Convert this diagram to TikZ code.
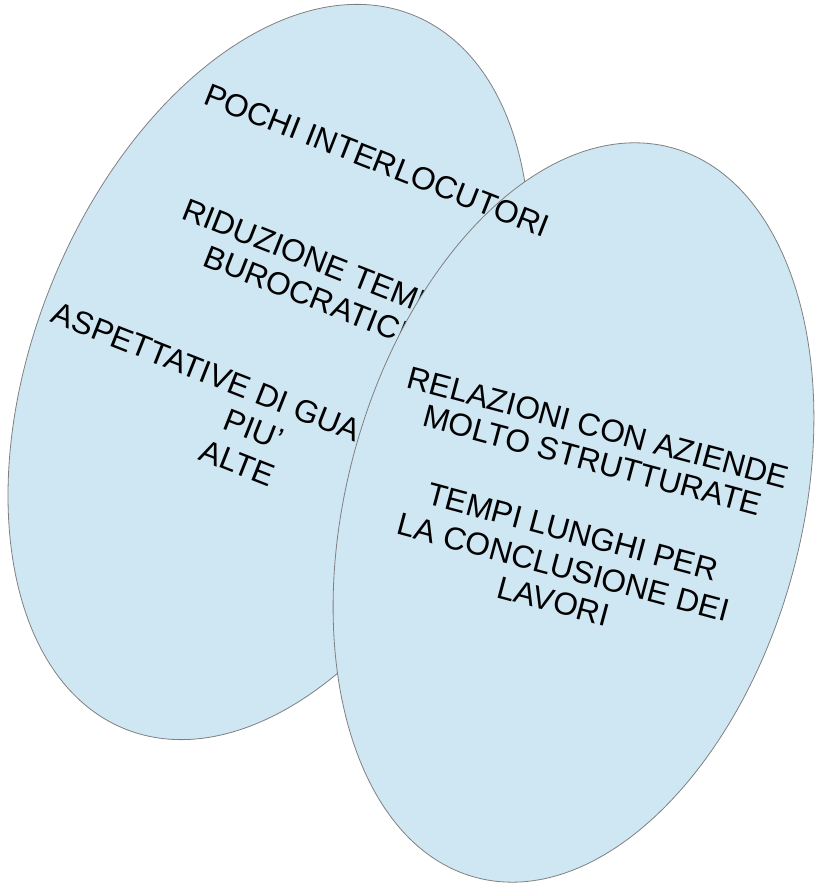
\documentclass[tikz,border=0pt]{standalone}
\usepackage{fontspec}
\setmainfont{Liberation Sans}
\usetikzlibrary{shapes.geometric}
\definecolor{bubblefill}{RGB}{207,230,243}
\definecolor{rim}{RGB}{128,128,128}
\tikzset{
  bubble/.style={ellipse, fill=bubblefill, inner sep=0pt, outer sep=0pt},
  rimline/.style={draw=rim, line width=0.8pt},
  txt/.style={anchor=base, inner sep=0pt, font=\fontsize{31.7}{37}\selectfont, text=black},
}
\begin{document}
\begin{tikzpicture}[x=1pt,y=1pt]
\useasboundingbox (0,0) rectangle (817,884);
% left ellipse
\node[bubble, rimline, minimum width=469.2pt, minimum height=769.8pt, rotate=-22] (left) at (269,512) {};
\begin{scope}[shift={(left.center)}, rotate=-21.5, transform shape]
  \node[txt] (riduzione) at (1,110.6) {RIDUZIONE TEMPI};
  \node[txt] (burocratici) at (6,74.8) {BUROCRATICI};
  \node[txt] (aspettative) at (0,-33.7) {ASPETTATIVE DI GUADAGNO};
  \node[txt] (piu) at (7,-70.1) {PIU'};
  \node[txt] (alte) at (4,-107.1) {ALTE};
\end{scope}
% right ellipse
\node[bubble, minimum width=454.6pt, minimum height=755.6pt, rotate=-15] (right) at (573.5,371.5) {};
\begin{scope}[shift={(left.center)}, rotate=-21.5, transform shape]
  \node[txt] (pochi) at (23,225.4) {POCHI INTERLOCUTORI};
\end{scope}
\draw[rimline, rotate around={-15:(right.center)}] (right.center) ellipse [x radius=227.3, y radius=377.8];
\begin{scope}[shift={(right.center)}, rotate=-15, transform shape]
  \node[txt] (relazioni) at (2,77.7) {RELAZIONI CON AZIENDE};
  \node[txt] (molto) at (5,44.2) {MOLTO STRUTTURATE};
  \node[txt] (tempi) at (4,-29.8) {TEMPI LUNGHI PER};
  \node[txt] (conclusione) at (4.5,-66.6) {LA CONCLUSIONE DEI};
  \node[txt] (lavori) at (3.5,-101.9) {LAVORI};
\end{scope}
\end{tikzpicture}
\end{document}
